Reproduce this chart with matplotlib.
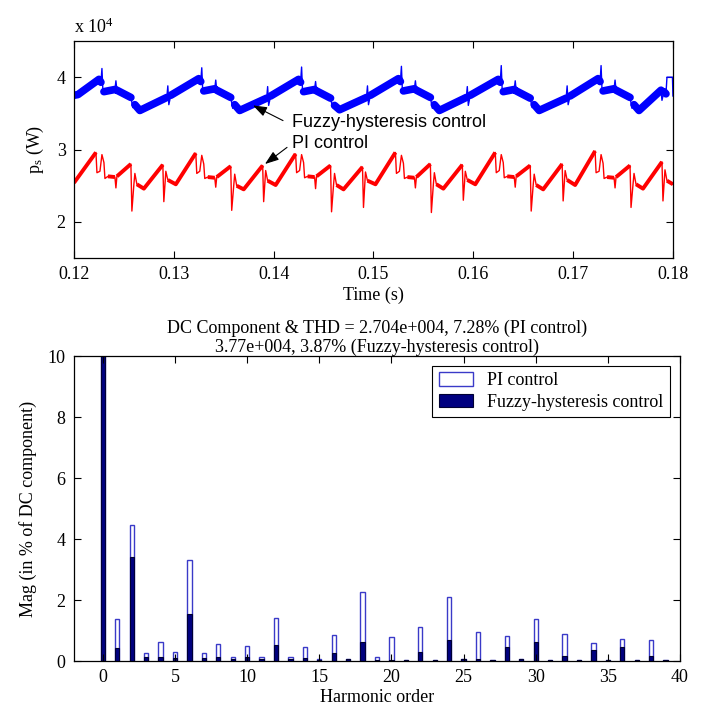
import matplotlib

matplotlib.use("Agg")

import numpy as np
import matplotlib.pyplot as plt

plt.rcParams["font.family"] = ["Liberation Serif", "DejaVu Serif"]
plt.rcParams["mathtext.fontset"] = "custom"
plt.rcParams["mathtext.rm"] = "Liberation Serif"
plt.rcParams["mathtext.it"] = "Liberation Serif:italic"

# ---- top panel: source active power (values in x 10^4 W) ----
# flag = 1 marks a thin spike / switching glitch, 0 marks the thick ripple band
pi_time = [
    0.1200,
    0.1222, 0.1223, 0.1226, 0.1228, 0.1230, 0.1231, 0.1234, 0.1241, 0.1242, 0.1243, 0.1257,
    0.1258, 0.1260, 0.1261, 0.1263, 0.1270, 0.1289, 0.1290, 0.1292, 0.1294, 0.1302,
    0.1322, 0.1323, 0.1326, 0.1328, 0.1330, 0.1331, 0.1334, 0.1341, 0.1342, 0.1343, 0.1357,
    0.1358, 0.1360, 0.1361, 0.1363, 0.1370, 0.1389, 0.1390, 0.1392, 0.1394, 0.1402,
    0.1422, 0.1423, 0.1426, 0.1428, 0.1430, 0.1431, 0.1434, 0.1441, 0.1442, 0.1443, 0.1457,
    0.1458, 0.1460, 0.1461, 0.1463, 0.1470, 0.1489, 0.1490, 0.1492, 0.1494, 0.1502,
    0.1522, 0.1523, 0.1526, 0.1528, 0.1530, 0.1531, 0.1534, 0.1541, 0.1542, 0.1543, 0.1557,
    0.1558, 0.1560, 0.1561, 0.1563, 0.1570, 0.1589, 0.1590, 0.1592, 0.1594, 0.1602,
    0.1622, 0.1623, 0.1626, 0.1628, 0.1630, 0.1631, 0.1634, 0.1641, 0.1642, 0.1643, 0.1657,
    0.1658, 0.1660, 0.1661, 0.1663, 0.1670, 0.1689, 0.1690, 0.1692, 0.1694, 0.1702,
    0.1722, 0.1723, 0.1726, 0.1728, 0.1730, 0.1731, 0.1734, 0.1741, 0.1742, 0.1743, 0.1757,
    0.1758, 0.1760, 0.1761, 0.1763, 0.1770, 0.1789, 0.1790, 0.1792, 0.1794, 0.1800,
]
pi_power = [
    2.54,
    2.96, 2.68, 2.70, 2.93, 2.82, 2.60, 2.63, 2.62, 2.47, 2.63, 2.80,
    2.15, 2.52, 2.67, 2.52, 2.46, 2.79, 2.28, 2.70, 2.58, 2.52,
    2.95, 2.67, 2.70, 2.92, 2.80, 2.60, 2.62, 2.61, 2.48, 2.62, 2.77,
    2.16, 2.50, 2.66, 2.50, 2.45, 2.78, 2.28, 2.71, 2.57, 2.51,
    2.94, 2.68, 2.71, 2.93, 2.82, 2.61, 2.63, 2.62, 2.46, 2.63, 2.78,
    2.14, 2.51, 2.67, 2.51, 2.45, 2.76, 2.20, 2.69, 2.57, 2.52,
    2.96, 2.67, 2.70, 2.92, 2.81, 2.60, 2.62, 2.61, 2.47, 2.62, 2.80,
    2.13, 2.52, 2.68, 2.52, 2.46, 2.79, 2.30, 2.70, 2.58, 2.52,
    2.96, 2.68, 2.71, 2.93, 2.82, 2.61, 2.63, 2.62, 2.48, 2.63, 2.78,
    2.15, 2.51, 2.66, 2.51, 2.45, 2.80, 2.29, 2.71, 2.58, 2.51,
    2.98, 2.68, 2.70, 2.93, 2.81, 2.60, 2.62, 2.61, 2.47, 2.62, 2.78,
    2.20, 2.52, 2.67, 2.52, 2.46, 2.83, 2.29, 2.72, 2.57, 2.52,
]
pi_spike = [
    0,
    0, 1, 1, 1, 1, 1, 0, 0, 1, 0, 0,
    1, 1, 1, 0, 0, 0, 1, 1, 0, 0,
    0, 1, 1, 1, 1, 1, 0, 0, 1, 0, 0,
    1, 1, 1, 0, 0, 0, 1, 1, 0, 0,
    0, 1, 1, 1, 1, 1, 0, 0, 1, 0, 0,
    1, 1, 1, 0, 0, 0, 1, 1, 0, 0,
    0, 1, 1, 1, 1, 1, 0, 0, 1, 0, 0,
    1, 1, 1, 0, 0, 0, 1, 1, 0, 0,
    0, 1, 1, 1, 1, 1, 0, 0, 1, 0, 0,
    1, 1, 1, 0, 0, 0, 1, 1, 0, 0,
    0, 1, 1, 1, 1, 1, 0, 0, 1, 0, 0,
    1, 1, 1, 0, 0, 0, 1, 1, 0, 0,
]

fz_time = [
    0.1200, 0.1204,
    0.1225, 0.1227, 0.1228, 0.1229, 0.1230, 0.1241, 0.1242, 0.1243,
    0.1257, 0.1259, 0.1261, 0.1266, 0.1293, 0.1294, 0.1295, 0.1297,
    0.1325, 0.1327, 0.1328, 0.1329, 0.1330, 0.1341, 0.1342, 0.1343,
    0.1357, 0.1359, 0.1361, 0.1366, 0.1393, 0.1394, 0.1395, 0.1397,
    0.1425, 0.1427, 0.1428, 0.1429, 0.1430, 0.1441, 0.1442, 0.1443,
    0.1457, 0.1459, 0.1461, 0.1466, 0.1493, 0.1494, 0.1495, 0.1497,
    0.1525, 0.1527, 0.1528, 0.1529, 0.1530, 0.1541, 0.1542, 0.1543,
    0.1557, 0.1559, 0.1561, 0.1566, 0.1593, 0.1594, 0.1595, 0.1597,
    0.1625, 0.1627, 0.1628, 0.1629, 0.1630, 0.1641, 0.1642, 0.1643,
    0.1657, 0.1659, 0.1661, 0.1666, 0.1693, 0.1694, 0.1695, 0.1697,
    0.1725, 0.1727, 0.1728, 0.1729, 0.1730, 0.1741, 0.1742, 0.1743,
    0.1757, 0.1759, 0.1761, 0.1766,
    0.1788, 0.1789, 0.1791, 0.1793, 0.1794, 0.17995, 0.1800,
]
fz_power = [
    3.75, 3.76,
    3.97, 3.93, 4.12, 3.80, 3.80, 3.83, 3.95, 3.82,
    3.72, 3.58, 3.62, 3.54, 3.72, 3.88, 3.62, 3.75,
    3.98, 3.94, 4.13, 3.80, 3.81, 3.84, 3.96, 3.82,
    3.72, 3.57, 3.62, 3.54, 3.71, 3.87, 3.61, 3.74,
    3.97, 3.93, 4.14, 3.79, 3.80, 3.83, 3.94, 3.81,
    3.71, 3.58, 3.61, 3.55, 3.72, 3.88, 3.62, 3.75,
    3.98, 3.94, 4.15, 3.80, 3.81, 3.84, 3.95, 3.82,
    3.72, 3.57, 3.62, 3.54, 3.72, 3.87, 3.61, 3.75,
    3.97, 3.93, 4.16, 3.80, 3.80, 3.83, 3.95, 3.81,
    3.71, 3.58, 3.62, 3.54, 3.71, 3.88, 3.62, 3.74,
    3.98, 3.94, 4.16, 3.80, 3.81, 3.84, 3.96, 3.82,
    3.72, 3.57, 3.62, 3.54,
    3.82, 3.68, 3.80, 3.77, 4.00, 4.00, 3.74,
]
fz_spike = [
    0, 0,
    0, 0, 1, 1, 0, 0, 1, 0,
    0, 1, 0, 0, 0, 1, 1, 0,
    0, 0, 1, 1, 0, 0, 1, 0,
    0, 1, 0, 0, 0, 1, 1, 0,
    0, 0, 1, 1, 0, 0, 1, 0,
    0, 1, 0, 0, 0, 1, 1, 0,
    0, 0, 1, 1, 0, 0, 1, 0,
    0, 1, 0, 0, 0, 1, 1, 0,
    0, 0, 1, 1, 0, 0, 1, 0,
    0, 1, 0, 0, 0, 1, 1, 0,
    0, 0, 1, 1, 0, 0, 1, 0,
    0, 1, 0, 0,
    0, 1, 0, 0, 1, 1, 1,
]

# ---- bottom panel: FFT harmonic spectrum (% of DC component) ----
harmonic_order = list(range(40))
pi_mag = [
    100.0, 1.37, 4.46, 0.27, 0.63, 0.31, 3.31, 0.27, 0.55, 0.14,
    0.50, 0.14, 1.41, 0.14, 0.46, 0.05, 0.85, 0.07, 2.26, 0.13,
    0.78, 0.03, 1.13, 0.02, 2.09, 0.07, 0.95, 0.03, 0.82, 0.07,
    1.37, 0.03, 0.90, 0.03, 0.58, 0.03, 0.73, 0.04, 0.68, 0.03,
]
fz_mag = [
    100.0, 0.42, 3.42, 0.14, 0.14, 0.09, 1.54, 0.09, 0.14, 0.06,
    0.14, 0.06, 0.52, 0.07, 0.10, 0.03, 0.27, 0.06, 0.63, 0.03,
    0.03, 0.03, 0.31, 0.02, 0.69, 0.05, 0.07, 0.03, 0.46, 0.06,
    0.63, 0.03, 0.18, 0.03, 0.36, 0.03, 0.46, 0.04, 0.18, 0.03,
]

TICK_SIZE = 13


def band_only(values, flags):
    out = np.array(values, dtype=float)
    out[np.array(flags) == 1] = np.nan
    return out


def style_axes(ax):
    ax.tick_params(direction="in", top=True, right=True, length=5, width=0.8,
                   labelsize=TICK_SIZE, pad=6)
    for side in ax.spines.values():
        side.set_linewidth(0.9)


fig = plt.figure(figsize=(7.08, 7.13), dpi=100)

# top: time-domain power
ax1 = fig.add_axes([0.1045, 0.638, 0.846, 0.3045])
ax1.plot(fz_time, band_only(fz_power, fz_spike), color="#0000ff", lw=5.5, solid_capstyle="round")
ax1.plot(fz_time, fz_power, color="#0000ff", lw=1.0)
ax1.plot(pi_time, band_only(pi_power, pi_spike), color="#ff0000", lw=2.8, solid_capstyle="butt")
ax1.plot(pi_time, pi_power, color="#ff0000", lw=1.0)
ax1.set_xlim(0.12, 0.18)
ax1.set_ylim(1.5, 4.5)
ax1.set_xticks([0.12, 0.13, 0.14, 0.15, 0.16, 0.17, 0.18])
ax1.set_xticklabels(["0.12", "0.13", "0.14", "0.15", "0.16", "0.17", "0.18"])
ax1.set_yticks([2, 3, 4])
ax1.set_yticklabels(["2", "3", "4"])
style_axes(ax1)
ax1.set_xlabel("Time (s)", fontsize=TICK_SIZE, labelpad=2)
ax1.set_ylabel(r"p$_{\mathrm{s}}$ (W)", fontsize=TICK_SIZE, labelpad=8)
fig.text(0.1045, 1 - 33 / 713, r"x 10$^{4}$", fontsize=TICK_SIZE, ha="left", va="baseline")

arrow = dict(arrowstyle="-|>,head_length=0.7,head_width=0.25", color="black", lw=0.8,
             mutation_scale=12, shrinkA=0, shrinkB=0)
ax1.annotate("", xy=(0.13793, 3.61), xytext=(0.14094, 3.40), arrowprops=arrow)
ax1.annotate("", xy=(0.13913, 2.80), xytext=(0.14134, 3.03), arrowprops=arrow)
ax1.text(0.14184, 3.375, "Fuzzy-hysteresis control", family=["Liberation Sans", "DejaVu Sans"],
         fontsize=13, ha="left", va="center")
ax1.text(0.14184, 3.083, "PI control", family=["Liberation Sans", "DejaVu Sans"],
         fontsize=13, ha="left", va="center")

# bottom: harmonic spectrum
ax2 = fig.add_axes([0.1045, 0.0729, 0.8559, 0.4278])
bars_pi = ax2.bar(harmonic_order, pi_mag, width=0.3, facecolor="white", edgecolor="#3a3ac8",
                  linewidth=1.0, label="PI control")
bars_fz = ax2.bar(harmonic_order, fz_mag, width=0.3, facecolor="#000080", edgecolor="#000033",
                  linewidth=0.8, label="Fuzzy-hysteresis control")
ax2.set_xlim(-2, 40)
ax2.set_ylim(0, 10)
ax2.set_xticks(range(0, 41, 5))
ax2.set_yticks(range(0, 11, 2))
style_axes(ax2)
ax2.set_xlabel("Harmonic order", fontsize=TICK_SIZE, labelpad=2)
ax2.set_ylabel("Mag (in % of DC component)", fontsize=TICK_SIZE, labelpad=8)
ax2.set_title("DC Component & THD = 2.704e+004, 7.28% (PI control)\n"
              "3.77e+004, 3.87% (Fuzzy-hysteresis control)",
              fontsize=TICK_SIZE, pad=3, linespacing=1.15)
leg = ax2.legend(handles=[bars_pi, bars_fz], loc="upper right", fontsize=TICK_SIZE,
                 frameon=True, fancybox=False, framealpha=1, edgecolor="black",
                 borderaxespad=0.55, handlelength=1.9, handleheight=0.75,
                 borderpad=0.35, labelspacing=0.25)
leg.get_frame().set_linewidth(0.8)

fig.savefig("out.png", dpi=100)
